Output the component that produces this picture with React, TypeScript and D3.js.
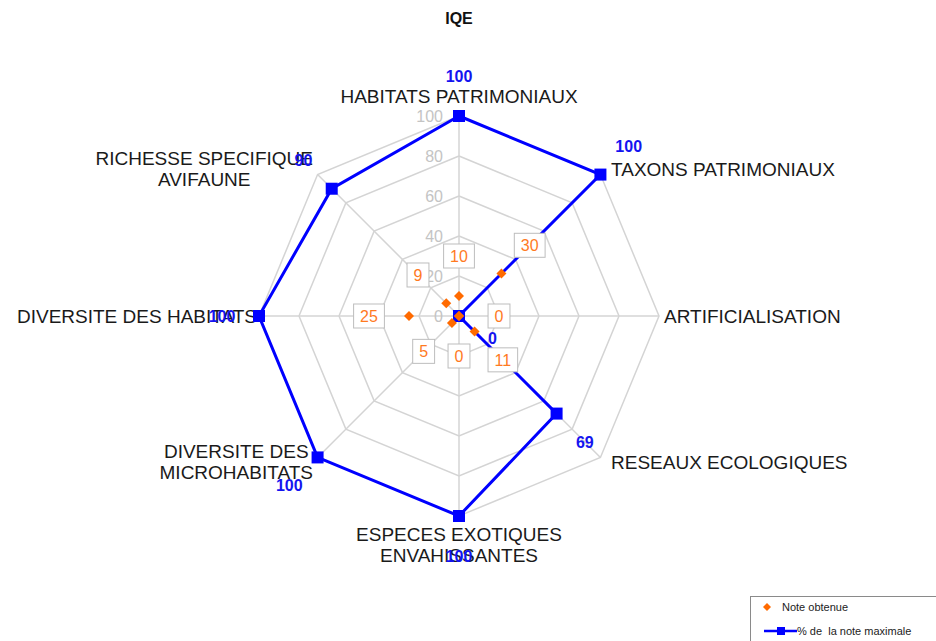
import React from "react";
import * as d3 from "d3";

const title = "IQE";
const categories = [
  "HABITATS PATRIMONIAUX",
  "TAXONS PATRIMONIAUX",
  "ARTIFICIALISATION",
  "RESEAUX ECOLOGIQUES",
  "ESPECES EXOTIQUES\nENVAHISSANTES",
  "DIVERSITE DES\nMICROHABITATS",
  "DIVERSITE DES HABITATS",
  "RICHESSE SPECIFIQUE\nAVIFAUNE",
];
const noteObtenue = [10, 30, 0, 11, 0, 5, 25, 9];
const pctNoteMax = [100, 100, 0, 69, 100, 100, 100, 90];
const ticks = [0, 20, 40, 60, 80, 100];
const legendLabels = ["Note obtenue", "% de\u00a0 la note maximale"];

const W = 936;
const H = 641;
const CX = 459;
const CY = 316;
const FONT = "'Liberation Sans', Arial, sans-serif";
const BLUE = "#0000ff";
const ORANGE = "#ff6a00";
const ORANGE_TXT = "#ff7a1f";
const GRID = "#d4d4d4";

let ctx: CanvasRenderingContext2D | null = null;
function textWidth(s: string, font: string) {
  if (!ctx) ctx = document.createElement("canvas").getContext("2d");
  if (!ctx) return s.length * 8;
  ctx.font = font;
  return ctx.measureText(s).width;
}

export default function App() {
  const r = d3.scaleLinear().domain([0, 100]).range([0, 200]);
  const n = categories.length;
  const ang = d3.scaleLinear().domain([0, n]).range([0, 2 * Math.PI]);
  const pt = (i: number, rad: number): [number, number] => [
    CX + rad * Math.sin(ang(i)),
    CY - rad * Math.cos(ang(i)),
  ];

  const ring = (v: number) =>
    d3.line()(d3.range(n + 1).map((i) => pt(i % n, r(v))))!;

  const bluePath = d3.line()(
    d3.range(n + 1).map((i) => pt(i % n, r(pctNoteMax[i % n])))
  )!;

  const catFontSize = 19;
  const catFont = `${catFontSize}px ${FONT}`;
  const lineH = 21;

  const catLabels = categories.map((c, i) => {
    const lines = c.split("\n");
    const a = ang(i);
    const s = Math.sin(a);
    const co = Math.cos(a);
    const isAxisH = Math.abs(co) < 0.01;
    const rad = isAxisH ? 205 : 215;
    const [px, py] = pt(i, rad);
    const widths = lines.map((l) => textWidth(l, catFont));
    const bw = Math.max(...widths);
    let cxBlock: number;
    if (Math.abs(s) < 0.01) cxBlock = px;
    else if (s > 0) cxBlock = px + bw / 2;
    else cxBlock = px + (isAxisH ? 3 : 6) - bw / 2;
    let firstBase: number;
    const blockH = lines.length * lineH;
    if (Math.abs(s) < 0.01 && co > 0) firstBase = py + 2 - (lines.length - 1) * lineH;
    else if (Math.abs(s) < 0.01) firstBase = py + 10;
    else {
      const centerY = py + (isAxisH ? 0 : co > 0 ? 5 : -6);
      firstBase = centerY - blockH / 2 + lineH / 2 + 6.7;
    }
    return (
      <text
        key={i}
        fontFamily={FONT}
        fontSize={catFontSize}
        fill="#1a1a1a"
        textAnchor="middle"
      >
        {lines.map((l, k) => (
          <tspan key={k} x={cxBlock} y={firstBase + k * lineH}>
            {l}
          </tspan>
        ))}
      </text>
    );
  });

  const orangeFont = `16px ${FONT}`;

  return (
    <svg width={W} height={H} style={{ display: "block", position: "absolute", left: 0, top: 0 }}>
      <rect width={W} height={H} fill="#fff" />
      <text x={CX} y={24} textAnchor="middle" fontFamily={FONT} fontWeight="bold" fontSize={16} fill="#111">
        {title}
      </text>

      {/* grid rings and spokes */}
      {ticks.slice(1).map((t) => (
        <path key={t} d={ring(t)} fill="none" stroke={GRID} strokeWidth={1.5} />
      ))}
      {categories.map((_, i) => {
        const [x, y] = pt(i, r(100));
        return <line key={i} x1={CX} y1={CY} x2={x} y2={y} stroke={GRID} strokeWidth={1.5} />;
      })}

      {/* radial tick labels */}
      {ticks.map((t) => (
        <text
          key={t}
          x={CX - 16}
          y={CY - r(t)}
          dy="0.35em"
          textAnchor="end"
          fontFamily={FONT}
          fontSize={16}
          fill="#c4c4c4"
        >
          {t}
        </text>
      ))}

      {catLabels}

      {/* % de la note maximale */}
      <path d={bluePath} fill="none" stroke={BLUE} strokeWidth={3} strokeLinejoin="miter" />
      {pctNoteMax.map((v, i) => {
        const [x, y] = pt(i, r(v));
        return <rect key={i} x={x - 6} y={y - 6} width={12} height={12} fill={BLUE} />;
      })}

      {/* Note obtenue */}
      {noteObtenue.map((v, i) => {
        const [x, y] = pt(i, r(v));
        return (
          <path
            key={i}
            d={`M${x},${y - 5}L${x + 5},${y}L${x},${y + 5}L${x - 5},${y}Z`}
            fill={ORANGE}
          />
        );
      })}
      {noteObtenue.map((v, i) => {
        const [x, y] = pt(i, r(v) + 40);
        const w = textWidth(String(v), orangeFont) + 13;
        return (
          <g key={i}>
            <rect x={x - w / 2} y={y - 12} width={w} height={24} fill="#fff" stroke="#bdbdbd" strokeWidth={1} />
            <text x={x} y={y} dy="0.36em" textAnchor="middle" fontFamily={FONT} fontSize={16} fill={ORANGE_TXT}>
              {v}
            </text>
          </g>
        );
      })}

      {/* value labels for % de la note maximale */}
      {pctNoteMax.map((v, i) => {
        const a = ang(i) + (v === 0 ? (33 * Math.PI) / 180 : 0);
        const [bx, by] = pt(i, r(v));
        const off = v > 0 && Math.abs(Math.cos(ang(i))) < 0.01 ? 37 : 40;
        const x = bx + off * Math.sin(a);
        const y = by - off * Math.cos(a);
        return (
          <text
            key={i}
            x={x}
            y={y}
            dy="0.36em"
            textAnchor="middle"
            fontFamily={FONT}
            fontWeight="bold"
            fontSize={16}
            fill="#1414f0"
          >
            {v}
          </text>
        );
      })}

      {/* legend */}
      <rect x={750.5} y={596.5} width={200} height={60} fill="#fff" stroke="#8a8a8a" strokeWidth={1} />
      <path d="M767,603L771,607L767,611L763,607Z" fill={ORANGE} />
      <text x={782} y={611} fontFamily={FONT} fontSize={11} fill="#222">
        {legendLabels[0]}
      </text>
      <line x1={764} y1={631} x2={797} y2={631} stroke={BLUE} strokeWidth={2.5} />
      <rect x={777} y={627} width={8} height={8} fill={BLUE} />
      <text x={797} y={635} fontFamily={FONT} fontSize={11} fill="#222">
        {legendLabels[1]}
      </text>
    </svg>
  );
}
